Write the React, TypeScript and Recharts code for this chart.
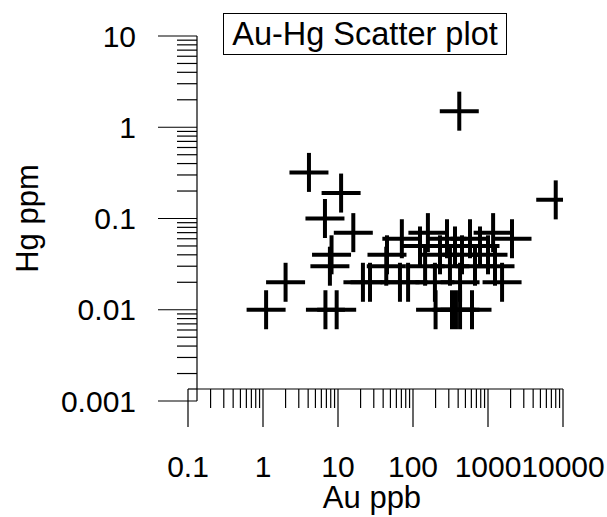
import React from 'react';
import { ScatterChart, Scatter, XAxis, YAxis, Label } from 'recharts';

// Au (ppb) and Hg (ppm) pairs
const auPpb = [
  414, 4.1, 11, 8000, 6.7, 16, 8.2, 7.8, 2, 1.1, 6.8, 9.6,
  158, 1170,
  71, 2090, 575, 284,
  124, 363, 782,
  45, 229, 450, 1000,
  44, 145, 311, 671, 1240,
  21.5, 26.7, 67, 86, 196, 424, 1540,
  200, 331, 374, 424, 612,
];
const hgPpm = [
  1.5, 0.32, 0.19, 0.16, 0.1, 0.07, 0.04, 0.03, 0.02, 0.01, 0.01, 0.01,
  0.07, 0.07,
  0.06, 0.06, 0.06, 0.06,
  0.05, 0.05, 0.05,
  0.04, 0.04, 0.04, 0.04,
  0.03, 0.03, 0.03, 0.03, 0.03,
  0.02, 0.02, 0.02, 0.02, 0.02, 0.02, 0.02,
  0.01, 0.01, 0.01, 0.01, 0.01,
];

const xMajor = [0.1, 1, 10, 100, 1000, 10000];
const yMajor = [0.001, 0.01, 0.1, 1, 10];
const minorSteps = [2, 3, 4, 5, 6, 7, 8, 9];

const withMinors = (majors: number[]) => {
  const out: number[] = [...majors];
  majors.slice(0, -1).forEach((m) => minorSteps.forEach((s) => out.push(m * s)));
  return out.sort((a, b) => a - b);
};

const xTicks = withMinors(xMajor);
const yTicks = withMinors(yMajor);

const font = '"Liberation Sans", Arial, sans-serif';

const XTick = ({ x, y, payload }: any) => {
  const major = xMajor.includes(payload.value);
  const first = payload.value === xMajor[0];
  return (
    <g>
      <line x1={x} x2={x} y1={y} y2={y + (major ? 38 : 19)} stroke="#000" strokeWidth={1.2} />
      {/* old plotter draws the axis line out to the first decade */}
      {first && <line x1={x} x2={x + 9} y1={y} y2={y} stroke="#000" strokeWidth={1.2} />}
      {major && (
        <text x={x} y={y + 88} textAnchor="middle" fontSize={30} fontFamily={font} fill="#000">
          {String(payload.value)}
        </text>
      )}
    </g>
  );
};

const YTick = ({ x, y, payload }: any) => {
  const major = yMajor.includes(payload.value);
  const first = payload.value === yMajor[0];
  return (
    <g>
      <line x1={x - (major ? 39 : 20)} x2={x} y1={y} y2={y} stroke="#000" strokeWidth={1.2} />
      {first && <line x1={x} x2={x} y1={y} y2={y - 12} stroke="#000" strokeWidth={1.2} />}
      {major && (
        <text x={x - 61} y={y + 10.5} textAnchor="end" fontSize={30} fontFamily={font} fill="#000">
          {String(payload.value)}
        </text>
      )}
    </g>
  );
};

const Cross = ({ cx, cy }: any) => (
  <g>
    <line x1={cx - 19.5} x2={cx + 19.5} y1={cy} y2={cy} stroke="#000" strokeWidth={4} />
    <line x1={cx} x2={cx} y1={cy - 19.5} y2={cy + 19.5} stroke="#000" strokeWidth={4} />
  </g>
);

export default function App() {
  const data = auPpb.map((au, i) => ({ au, hg: hgPpm[i] }));

  return (
    <div style={{ position: 'absolute', left: 0, top: 0, width: 607, height: 517, background: '#fff' }}>
      <ScatterChart
        width={607}
        height={517}
        margin={{ top: 36, right: 44, bottom: 0, left: 0 }}
      >
        <XAxis
          dataKey="au"
          type="number"
          scale="log"
          domain={[0.1, 10000]}
          ticks={xTicks}
          interval={0}
          tick={<XTick />}
          tickLine={false}
          tickSize={0}
          tickMargin={0}
          height={128}
          padding={{ left: -9, right: 0 }}
          axisLine={{ stroke: '#000', strokeWidth: 1.2 }}
          allowDataOverflow
        >
          <Label
            content={({ viewBox }: any) => (
              <text
                x={viewBox.x + viewBox.width / 2 - 8}
                y={viewBox.y + 119}
                textAnchor="middle"
                fontSize={31}
                fontFamily={font}
                fill="#000"
              >
                Au ppb
              </text>
            )}
          />
        </XAxis>
        <YAxis
          dataKey="hg"
          type="number"
          scale="log"
          domain={[0.001, 10]}
          ticks={yTicks}
          interval={0}
          tick={<YTick />}
          tickLine={false}
          tickSize={0}
          tickMargin={0}
          width={197}
          padding={{ top: 0, bottom: -12 }}
          axisLine={{ stroke: '#000', strokeWidth: 1.2 }}
          allowDataOverflow
        >
          <Label
            content={({ viewBox }: any) => (
              <text
                transform={`translate(${viewBox.x + 38}, ${viewBox.y + viewBox.height / 2 + 6}) rotate(-90)`}
                textAnchor="middle"
                fontSize={31}
                fontFamily={font}
                fill="#000"
              >
                Hg ppm
              </text>
            )}
          />
        </YAxis>
        <Scatter data={data} shape={<Cross />} isAnimationActive={false} />
      </ScatterChart>
      <div
        style={{
          position: 'absolute',
          left: 223,
          top: 13,
          width: 284,
          height: 42,
          boxSizing: 'border-box',
          border: '1px solid #000',
          display: 'flex',
          alignItems: 'center',
          justifyContent: 'center',
          fontFamily: font,
          fontSize: 32.5,
          lineHeight: 1,
          color: '#000',
          background: '#fff',
        }}
      >
        Au-Hg Scatter plot
      </div>
    </div>
  );
}
